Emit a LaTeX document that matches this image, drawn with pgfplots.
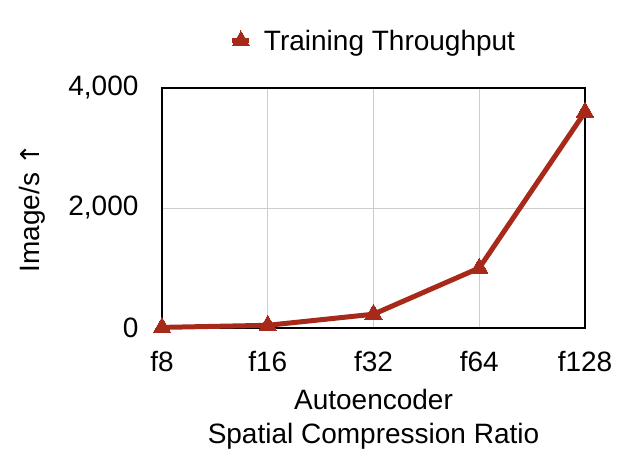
\documentclass[border=0pt]{standalone}
\usepackage{pgfplots}
\pgfplotsset{compat=1.18}
\usepackage{fontspec}
\setmainfont{Liberation Sans}
\newfontfamily\arrowfont{DejaVu Sans}
\definecolor{tputred}{RGB}{166,41,26}
\definecolor{gridgray}{RGB}{205,205,205}

\begin{document}
\begin{tikzpicture}
\useasboundingbox (-162pt,-141pt) rectangle (469pt,328pt);
\begin{axis}[
    scale only axis,
    width=423pt,
    height=240pt,
    xmin=0, xmax=4,
    ymin=0, ymax=4000,
    xtick={0,1,2,3,4},
    xticklabels={f8,f16,f32,f64,f128},
    ytick={0,2000,4000},
    major tick length=0pt,
    grid=major,
    major grid style={gridgray, line width=1pt},
    axis line style={black, line width=2.4pt},
    font=\fontsize{28}{34}\selectfont,
    tick label style={font=\fontsize{28}{34}\selectfont},
    /pgf/number format/assume math mode=true,
    /pgf/number format/1000 sep={,},
    yticklabel style={xshift=-20pt},
    xticklabel style={yshift=-20pt},
    xlabel={Autoencoder\\Spatial Compression Ratio},
    xlabel style={align=center, yshift=-10pt},
    ylabel={Image/s {\arrowfont\fontsize{26}{30}\selectfont ↑}},
    ylabel style={yshift=16pt},
    clip=false,
    legend style={at={(0.5,1)}, anchor=south, yshift=32pt, draw=none, fill=none,
        font=\fontsize{28}{34}\selectfont},
    legend cell align={left},
]
\addplot[tputred, line width=5pt, mark=triangle*, mark size=10pt,
    mark options={solid, line width=0pt}] coordinates {
    (0,10) (1,45) (2,230) (3,1000) (4,3600)
};
\addlegendentry{\hspace{10pt}Training Throughput}
\end{axis}
\end{tikzpicture}
\end{document}
